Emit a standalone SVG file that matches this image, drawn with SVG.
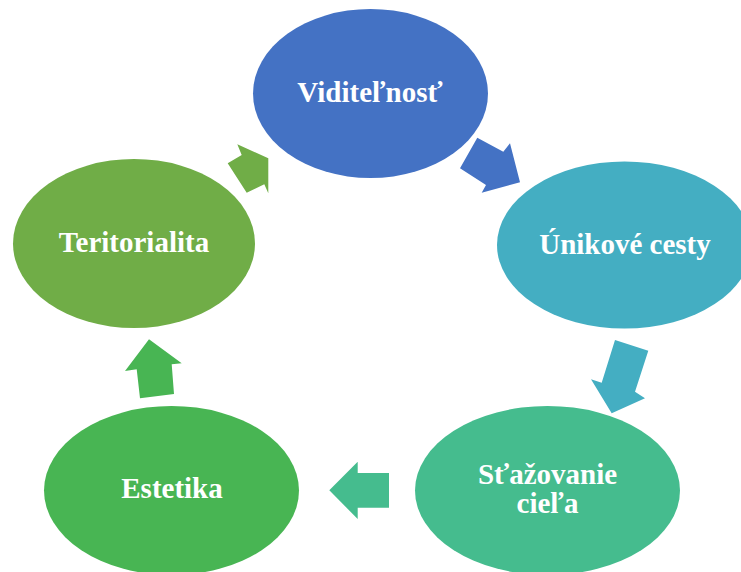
<svg xmlns="http://www.w3.org/2000/svg" width="741" height="572" viewBox="0 0 741 572">
<style>
.lbl{font-family:"Liberation Serif","Times New Roman",serif;font-weight:bold;font-size:29px;fill:#FFFFFF;text-anchor:middle}
.c1{fill:#4472C4}.c2{fill:#44AEC2}.c3{fill:#45BC8E}.c4{fill:#48B553}.c5{fill:#70AD47}
</style>
<rect width="741" height="572" fill="#FFFFFF"/>
<g id="connectors">
<polygon class="c1" points="477.3,137.7 503.3,151.7 510,143.3 520,182.3 481.7,192.7 486,185 460,168.3"/>
<polygon class="c2" points="615,340 648.3,350.7 635,391.7 645,398.3 611.7,413.3 591,379.3 601.7,382.7"/>
<polygon class="c3" points="389,473 357.7,473 357.7,461.7 329.3,490.3 357.7,519 357.7,507.7 389,507.7"/>
<polygon class="c4" points="149,339.3 181.7,363.3 171.7,364.3 174,394 140,398.3 136.7,369.3 125,371"/>
<polygon class="c5" points="237.3,144.3 268.3,158.3 268.3,193.3 264.3,184.3 246.7,192.7 227.7,163.3 241.7,155"/>
</g>
<g id="node-viditelnost">
<ellipse class="c1" cx="370.5" cy="93.5" rx="117.5" ry="84.5"/>
<text class="lbl" x="370" y="102">Viditeľnosť</text>
</g>
<g id="node-unikove-cesty">
<ellipse class="c2" cx="624.5" cy="245" rx="127.5" ry="83.5"/>
<text class="lbl" x="625" y="254">Únikové cesty</text>
</g>
<g id="node-stazovanie-ciela">
<ellipse class="c3" cx="547.5" cy="490.5" rx="132.5" ry="84.5"/>
<text class="lbl" x="547.5" y="484">Sťažovanie</text>
<text class="lbl" x="547.5" y="513">cieľa</text>
</g>
<g id="node-estetika">
<ellipse class="c4" cx="171.5" cy="490.5" rx="127.5" ry="84.5"/>
<text class="lbl" x="172" y="498">Estetika</text>
</g>
<g id="node-teritorialita">
<ellipse class="c5" cx="134" cy="243.5" rx="121" ry="84.5"/>
<text class="lbl" x="134" y="252">Teritorialita</text>
</g>
</svg>
